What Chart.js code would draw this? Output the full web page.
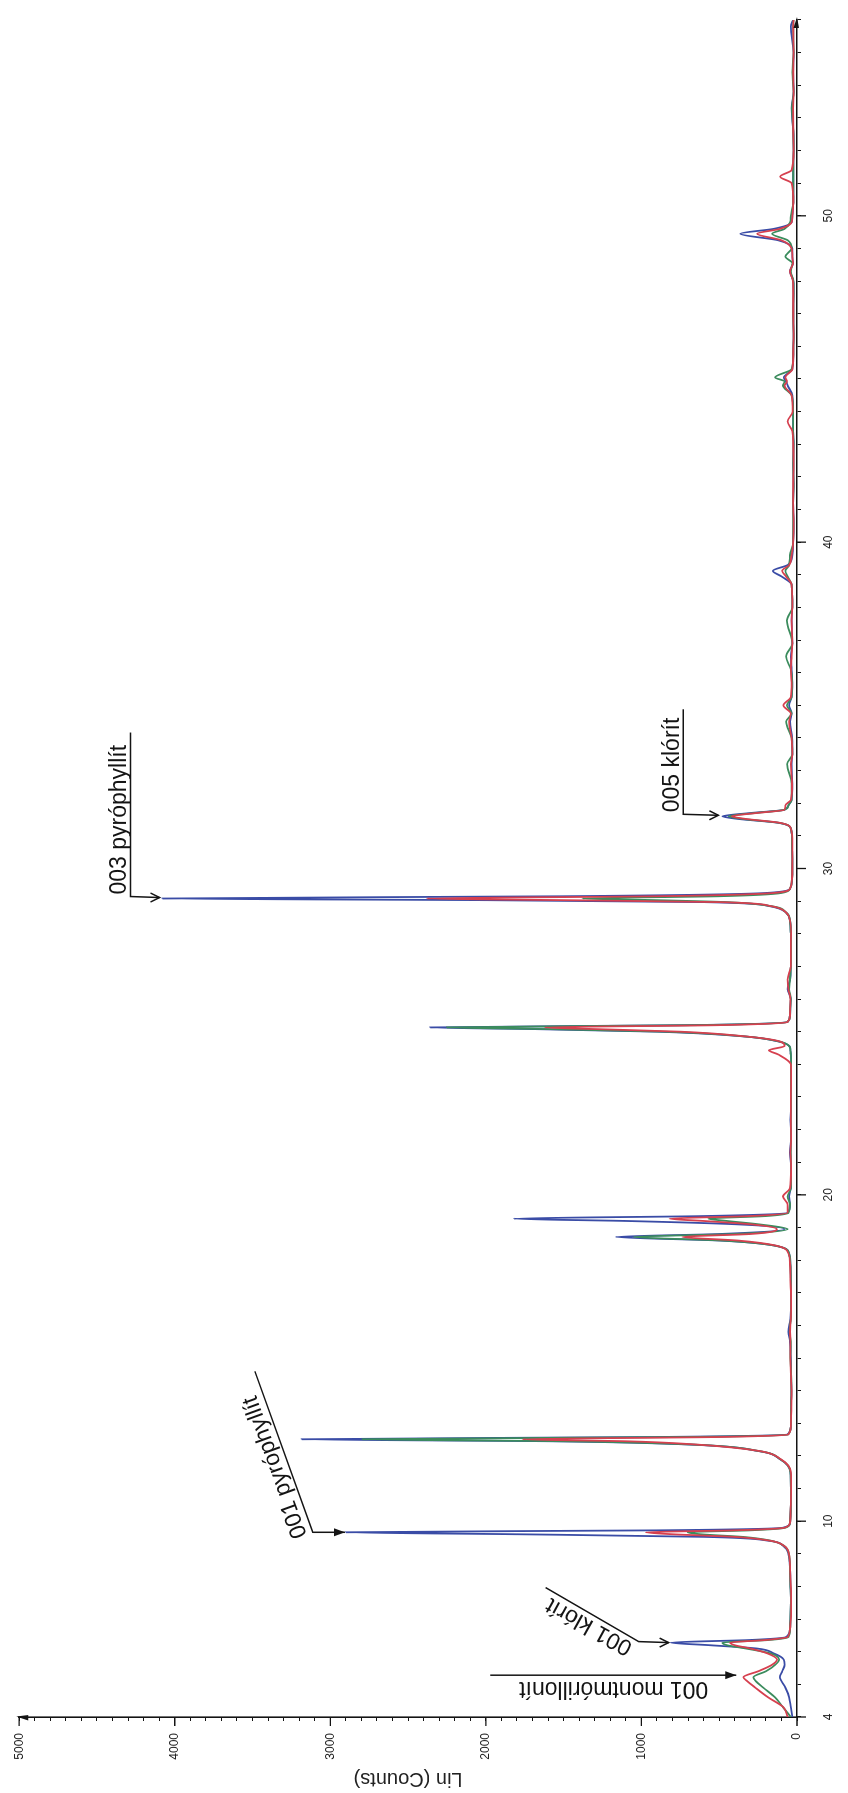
<!DOCTYPE html>
<html>
<head>
<meta charset="utf-8">
<script src="https://cdn.jsdelivr.net/npm/chart.js@4.4.0/dist/chart.umd.min.js"></script>
<style>
  html, body { margin: 0; padding: 0; width: 848px; height: 1793px; overflow: hidden; background: #fff; }
  /* the plot is drawn landscape and turned a quarter turn to the left */
  #frame { position: absolute; left: 0; top: 1793px; width: 1793px; height: 848px;
           transform-origin: 0 0; transform: rotate(-90deg); }
  canvas { display: block; }
</style>
</head>
<body>
<div id="frame"><canvas id="xrd" width="1793" height="848"></canvas></div>
<script>
// 2-theta positions (deg) shared by the three patterns
const twoTheta = [
  4.00, 4.30, 4.60, 4.90, 5.10, 5.22, 5.40, 5.60, 5.76, 5.95,
  6.10, 6.20, 6.28, 6.36, 6.45, 6.70, 7.00, 7.50, 8.00, 8.50,
  9.00, 9.25, 9.40, 9.52, 9.60, 9.66, 9.72, 9.80, 9.95, 10.50,
  11.00, 11.50, 11.90, 12.15, 12.35, 12.45, 12.51, 12.58, 12.66, 12.90,
  13.50, 14.00, 14.50, 15.00, 15.50, 15.80, 16.20, 16.80, 17.40, 17.90,
  18.20, 18.45, 18.60, 18.71, 18.80, 18.95, 19.10, 19.20, 19.27, 19.35,
  19.45, 19.70, 19.95, 20.20, 20.80, 21.30, 21.80, 22.30, 22.80, 23.40,
  24.00, 24.30, 24.43, 24.56, 24.70, 24.85, 25.00, 25.08, 25.13, 25.20,
  25.30, 25.50, 26.00, 26.30, 26.60, 27.00, 27.50, 28.00, 28.40, 28.65,
  28.85, 28.97, 29.03, 29.08, 29.15, 29.25, 29.38, 29.70, 30.30, 30.80,
  31.20, 31.40, 31.52, 31.60, 31.70, 31.80, 31.93, 32.10, 32.60, 33.20,
  33.50, 34.00, 34.50, 34.75, 35.00, 35.25, 35.70, 36.10, 36.50, 36.90,
  37.60, 38.00, 38.70, 38.95, 39.12, 39.30, 39.60, 40.00, 40.60, 41.20,
  41.80, 42.40, 43.00, 43.40, 43.70, 44.00, 44.50, 44.80, 44.92, 45.05,
  45.30, 45.80, 46.40, 47.00, 47.60, 48.00, 48.30, 48.55, 48.75, 49.00,
  49.25, 49.45, 49.60, 49.80, 50.00, 50.40, 51.00, 51.20, 51.40, 52.00,
  52.60, 53.30, 53.80, 54.40, 55.00, 55.80, 56.00
];

const blueCounts = [
  30, 40, 50, 75, 100, 110, 95, 80, 85, 150,
  260, 560, 812, 300, 70, 45, 42, 40, 42, 45,
  55, 90, 180, 600, 1800, 2900, 900, 90, 45, 40,
  40, 42, 110, 250, 700, 1600, 3184, 900, 60, 40,
  38, 36, 38, 40, 45, 55, 42, 38, 40, 42,
  50, 150, 500, 1164, 500, 80, 400, 1100, 1822, 600,
  60, 45, 50, 40, 38, 45, 38, 42, 38, 40,
  38, 40, 42, 50, 120, 330, 900, 1700, 2358, 700,
  60, 45, 40, 60, 45, 40, 38, 40, 45, 70,
  180, 600, 2000, 4079, 1500, 200, 45, 32, 30, 32,
  38, 120, 380, 480, 300, 80, 55, 35, 30, 35,
  30, 32, 45, 35, 50, 35, 30, 35, 40, 30,
  35, 30, 35, 100, 155, 60, 30, 25, 22, 25,
  22, 24, 22, 25, 25, 25, 30, 60, 70, 85,
  30, 24, 22, 24, 22, 24, 45, 25, 30, 30,
  120, 364, 150, 35, 30, 24, 24, 24, 24, 22,
  24, 35, 22, 25, 22, 40, 25
];

const redCounts = [
  60, 88, 185, 268, 320, 345, 250, 160, 128, 190,
  300, 400, 430, 200, 60, 45, 40, 38, 40, 44,
  52, 85, 170, 400, 800, 972, 400, 80, 45, 40,
  38, 40, 105, 240, 650, 1100, 1765, 500, 55, 40,
  36, 35, 40, 42, 42, 45, 40, 38, 42, 45,
  55, 140, 380, 736, 300, 130, 300, 600, 818, 300,
  60, 60, 90, 45, 38, 42, 38, 40, 40, 38,
  40, 120, 180, 80, 110, 320, 750, 1300, 1620, 500,
  60, 45, 42, 55, 60, 40, 40, 38, 45, 70,
  170, 500, 1500, 2380, 900, 150, 45, 32, 30, 30,
  38, 110, 330, 420, 260, 80, 75, 40, 32, 40,
  30, 35, 50, 40, 88, 40, 35, 40, 35, 30,
  35, 30, 35, 70, 95, 50, 35, 25, 22, 25,
  24, 22, 24, 30, 60, 28, 35, 80, 65, 75,
  30, 24, 22, 24, 24, 26, 45, 25, 30, 35,
  100, 256, 110, 35, 30, 24, 35, 109, 35, 22,
  24, 25, 22, 24, 22, 24, 22
];

const greenCounts = [
  40, 90, 141, 217, 265, 281, 200, 140, 115, 170,
  330, 450, 480, 180, 55, 45, 42, 40, 42, 45,
  52, 85, 165, 350, 620, 703, 300, 75, 45, 40,
  40, 42, 108, 245, 680, 1500, 2794, 700, 55, 40,
  38, 36, 38, 42, 40, 48, 40, 38, 40, 42,
  50, 150, 480, 1050, 400, 60, 250, 450, 569, 200,
  55, 45, 60, 40, 38, 40, 38, 40, 38, 40,
  38, 40, 42, 50, 115, 325, 850, 1600, 2250, 650,
  60, 45, 40, 50, 45, 40, 38, 40, 45, 70,
  170, 450, 900, 1380, 500, 100, 45, 32, 30, 32,
  38, 115, 350, 440, 270, 80, 55, 35, 35, 64,
  30, 35, 70, 35, 65, 35, 32, 40, 70, 30,
  65, 30, 35, 60, 75, 50, 45, 25, 24, 25,
  22, 24, 22, 25, 25, 25, 35, 90, 80, 140,
  35, 24, 22, 24, 22, 24, 40, 30, 75, 35,
  60, 160, 80, 45, 40, 24, 24, 24, 24, 22,
  24, 32, 22, 30, 22, 24, 22
];

// labelled reflections: text, 2-theta and counts of the peak the arrow points at
const peakNames  = ['001 montmórillonít', '001 klórít', '001 pyróphyllít', '003 pyróphyllít', '005 klórít'];
const peakTheta  = [5.22, 6.28, 9.66, 29.08, 31.60];
const peakCounts = [345, 812, 2900, 4079, 480];

const FONT = '"Liberation Sans", Arial, sans-serif';
const INK = '#141414';

// leader lines, in page pixels relative to the peak tip (x right, y down on the page)
const leaderLayout = [
  { path: [[-253, -2], [-7, -2]], head: 'filled', text: [-35, 5], angle: 180 },
  { path: [[-125, -55], [-32, -1], [-2, 0]], head: 'open', text: [-37, 1], angle: -151 },
  { path: [[-91, -161], [-33, 0], [-1, 0]], head: 'filled', text: [-39, 3], angle: -110 },
  { path: [[-32, -166], [-32, -2], [-3, -1]], head: 'open', text: [-36, -4], angle: -90 },
  { path: [[-39, -107], [-39, -2], [-4, -1]], head: 'open', text: [-43, -4], angle: -90 }
];

const peakLabelPlugin = {
  id: 'peakLabels',
  afterDatasetsDraw(chart) {
    const { ctx, scales: { x, y } } = chart;
    ctx.save();
    ctx.strokeStyle = INK;
    ctx.fillStyle = INK;
    ctx.lineWidth = 1.5;
    ctx.font = '23px ' + FONT;
    peakNames.forEach((name, i) => {
      const L = leaderLayout[i];
      const tx = x.getPixelForValue(peakTheta[i]);
      const ty = y.getPixelForValue(peakCounts[i]);
      // page offset -> canvas offset (canvas is turned -90deg)
      const at = ([dx, dy]) => [tx - dy, ty + dx];

      ctx.beginPath();
      L.path.forEach((pt, k) => {
        const [cx, cy] = at(pt);
        if (k) ctx.lineTo(cx, cy); else ctx.moveTo(cx, cy);
      });
      ctx.stroke();

      const [hx, hy] = at(L.path[L.path.length - 1]);
      ctx.beginPath();
      if (L.head === 'filled') {
        ctx.moveTo(hx, hy);
        ctx.lineTo(hx - 4, hy - 11);
        ctx.lineTo(hx + 4, hy - 11);
        ctx.closePath();
        ctx.fill();
      } else {
        ctx.moveTo(hx - 4.5, hy - 9);
        ctx.lineTo(hx, hy);
        ctx.lineTo(hx + 4.5, hy - 9);
        ctx.stroke();
      }

      const [lx, ly] = at(L.text);
      ctx.save();
      ctx.translate(lx, ly);
      ctx.rotate((L.angle + 90) * Math.PI / 180);
      ctx.textAlign = 'left';
      ctx.textBaseline = 'alphabetic';
      ctx.fillText(name, 0, 0);
      ctx.restore();
    });
    ctx.restore();
  }
};

// long ticks at labelled values and the small arrow ends of both axes
const axisMarksPlugin = {
  id: 'axisMarks',
  afterDraw(chart) {
    const { ctx, chartArea: a, scales: { x, y } } = chart;
    ctx.save();
    ctx.strokeStyle = INK;
    ctx.fillStyle = INK;
    ctx.lineWidth = 1.3;
    ctx.beginPath();
    y.ticks.forEach(t => {
      if (t.value % 1000 === 0) {
        const py = y.getPixelForValue(t.value);
        ctx.moveTo(a.left, py);
        ctx.lineTo(a.left - 9, py);
      }
    });
    x.ticks.forEach(t => {
      if (t.value === 4 || t.value % 10 === 0) {
        const px = x.getPixelForValue(t.value);
        ctx.moveTo(px, a.bottom);
        ctx.lineTo(px, a.bottom + 9);
      }
    });
    ctx.stroke();

    ctx.beginPath();
    ctx.moveTo(a.left + 0.5, a.top - 3);
    ctx.lineTo(a.left - 3.5, a.top + 9);
    ctx.lineTo(a.left + 2, a.top + 9);
    ctx.closePath();
    ctx.fill();
    ctx.beginPath();
    ctx.moveTo(a.right + 3, a.bottom);
    ctx.lineTo(a.right - 8, a.bottom - 3.5);
    ctx.lineTo(a.right - 8, a.bottom + 2);
    ctx.closePath();
    ctx.fill();
    ctx.restore();
  }
};

const toPoints = counts => twoTheta.map((t, i) => ({ x: t, y: counts[i] }));

const lineStyle = {
  borderWidth: 1.8,
  pointRadius: 0,
  fill: false,
  cubicInterpolationMode: 'monotone'
};

new Chart(document.getElementById('xrd'), {
  type: 'line',
  data: {
    datasets: [
      { label: 'red', data: toPoints(redCounts), borderColor: '#d6404f', order: 0, ...lineStyle },
      { label: 'green', data: toPoints(greenCounts), borderColor: '#3b8c5d', order: 1, ...lineStyle },
      { label: 'blue', data: toPoints(blueCounts), borderColor: '#3a4ca6', order: 2, ...lineStyle }
    ]
  },
  options: {
    responsive: false,
    animation: false,
    devicePixelRatio: 1,
    layout: { padding: { top: 15, right: 6, left: 0, bottom: 0 } },
    plugins: {
      legend: { display: false },
      tooltip: { enabled: false }
    },
    scales: {
      x: {
        type: 'linear',
        min: 4,
        max: 56,
        afterFit: s => { s.height = 51; },
        border: { color: INK, width: 1.6 },
        grid: { drawOnChartArea: false, drawTicks: true, tickLength: 4, tickColor: INK },
        ticks: {
          stepSize: 1,
          autoSkip: false,
          maxTicksLimit: 80,
          maxRotation: 0,
          padding: 20,
          color: '#222',
          font: { family: FONT, size: 12 },
          callback: v => (v === 4 || v % 10 === 0) ? String(v) : ''
        }
      },
      y: {
        min: 0,
        max: 5000,
        afterFit: s => { s.width = 76; },
        border: { color: INK, width: 1.6 },
        grid: { drawOnChartArea: false, drawTicks: true, tickLength: 4, tickColor: INK },
        ticks: {
          stepSize: 100,
          autoSkip: false,
          maxTicksLimit: 80,
          padding: 12,
          color: '#222',
          font: { family: FONT, size: 12 },
          callback: v => v % 1000 === 0 ? String(v) : ''
        },
        title: {
          display: true,
          text: 'Lin (Counts)',
          color: '#222',
          font: { family: FONT, size: 20 },
          padding: { top: 2, bottom: 0 }
        }
      }
    }
  },
  plugins: [peakLabelPlugin, axisMarksPlugin]
});
</script>
</body>
</html>
